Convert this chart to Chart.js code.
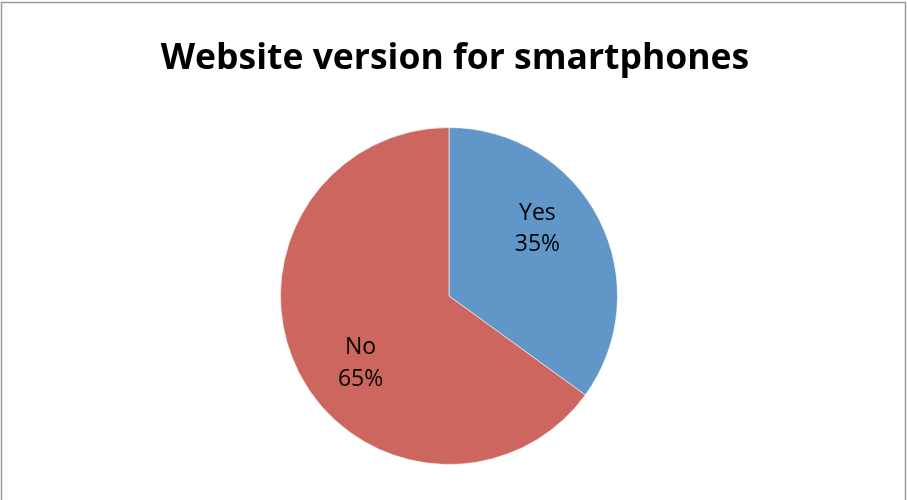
<!DOCTYPE html>
<html>
<head>
<meta charset="utf-8">
<script src="https://cdn.jsdelivr.net/npm/chart.js@4"></script>
<style>
  html, body { margin: 0; padding: 0; background: #ffffff; }
  #wrap { width: 907px; height: 500px; }
</style>
</head>
<body>
<div id="wrap"><canvas id="c" width="907" height="500"></canvas></div>
<script>
const categories = ['Yes', 'No'];
const shares = [35, 65];
const sliceColors = ['#6096C8', '#CD665E'];
const chartTitle = 'Website version for smartphones';

// Frame around the chart area (left, top and right edges)
const framePlugin = {
  id: 'frame',
  beforeDraw(chart) {
    const ctx = chart.ctx;
    ctx.save();
    ctx.fillStyle = '#ffffff';
    ctx.fillRect(0, 0, chart.width, chart.height);
    ctx.strokeStyle = '#9a9a9a';
    ctx.lineWidth = 1.5;
    ctx.beginPath();
    ctx.moveTo(1.5, chart.height + 2);
    ctx.lineTo(1.5, 2.5);
    ctx.lineTo(chart.width - 1.5, 2.5);
    ctx.lineTo(chart.width - 1.5, chart.height + 2);
    ctx.stroke();
    ctx.restore();
  }
};

// Title centred on the whole canvas rather than on the pie
const canvasTitlePlugin = {
  id: 'canvasTitle',
  afterDraw(chart) {
    const ctx = chart.ctx;
    ctx.save();
    ctx.font = 'bold 35.5px "Open Sans", sans-serif';
    ctx.fillStyle = '#000000';
    ctx.textAlign = 'center';
    ctx.textBaseline = 'middle';
    ctx.fillText(chartTitle, chart.width / 2 + 1.5, 59);
    ctx.restore();
  }
};

// Category name and percentage drawn inside each slice,
// placed a little counter-clockwise of the slice's middle angle
const sliceLabelPlugin = {
  id: 'sliceLabels',
  afterDatasetsDraw(chart) {
    const ctx = chart.ctx;
    const meta = chart.getDatasetMeta(0);
    const total = shares.reduce((a, b) => a + b, 0);
    ctx.save();
    ctx.font = '23px "Open Sans", sans-serif';
    ctx.fillStyle = '#000000';
    ctx.textAlign = 'center';
    ctx.textBaseline = 'middle';
    meta.data.forEach((arc, i) => {
      const p = arc.getProps(['x', 'y', 'startAngle', 'endAngle', 'outerRadius'], true);
      const mid = (p.startAngle + p.endAngle) / 2 - 0.18;
      const r = p.outerRadius * 0.66;
      const cx = p.x + Math.cos(mid) * r;
      const cy = p.y + Math.sin(mid) * r;
      const pct = Math.round(shares[i] / total * 100) + '%';
      ctx.fillText(categories[i], cx, cy - 15.5);
      ctx.fillText(pct, cx, cy + 16);
    });
    ctx.restore();
  }
};

new Chart(document.getElementById('c'), {
  type: 'pie',
  data: {
    labels: categories,
    datasets: [{
      data: shares,
      backgroundColor: sliceColors,
      borderColor: 'rgba(255,255,255,0.6)',
      borderWidth: 1
    }]
  },
  options: {
    responsive: false,
    animation: false,
    layout: { padding: { left: 0, right: 9, top: 127, bottom: 35 } },
    plugins: {
      legend: { display: false },
      tooltip: { enabled: false },
      title: { display: false }
    }
  },
  plugins: [framePlugin, sliceLabelPlugin, canvasTitlePlugin]
});
</script>
</body>
</html>
